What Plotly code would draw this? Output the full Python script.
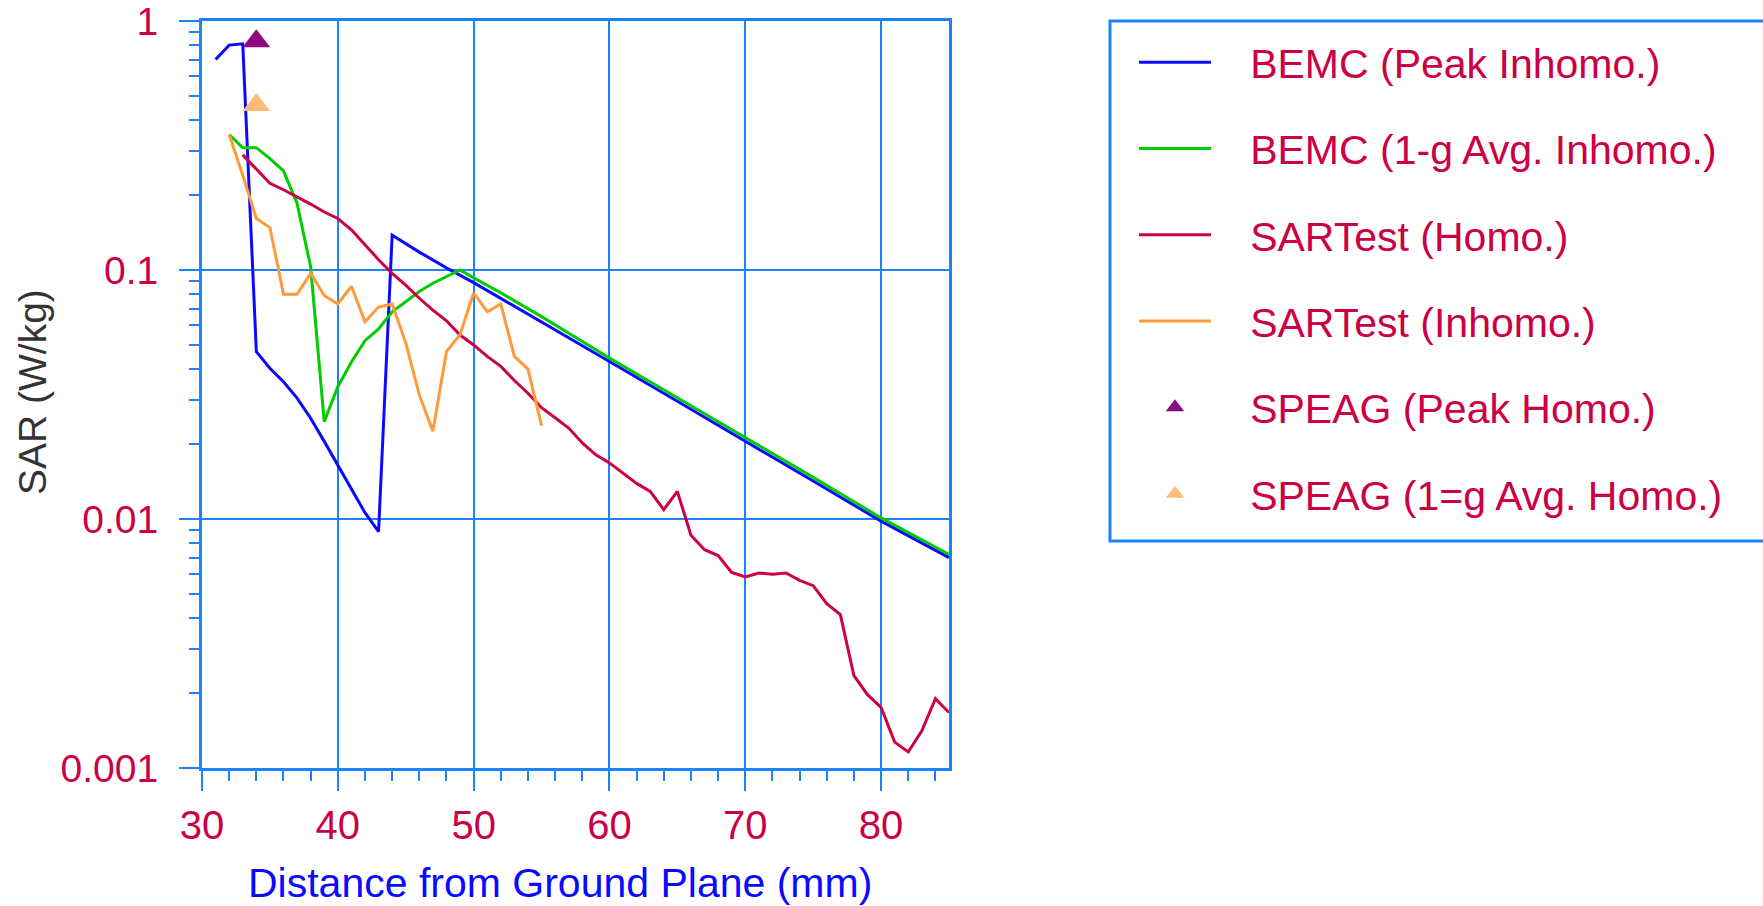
import plotly.graph_objects as go

# ---------------- data ----------------
bemc_peak_x = [31, 32, 33, 34, 35, 36, 37, 38, 39, 40, 41, 42, 43, 44, 46, 48, 50, 52, 55, 60, 65, 70, 75, 80, 85]
bemc_peak_y = [0.70, 0.80, 0.81, 0.047, 0.0403, 0.0356, 0.0306, 0.0254, 0.0205, 0.0164, 0.0131, 0.0106, 0.0089,
               0.138, 0.118, 0.102, 0.089, 0.077, 0.062, 0.0429, 0.0297, 0.0206, 0.0142, 0.0098, 0.0070]

bemc_avg_x = [32, 33, 34, 35, 36, 37, 38, 39, 40, 41, 42, 43, 44, 45, 46, 47, 48, 49, 50, 52, 55, 60, 65, 70, 75, 80, 85]
bemc_avg_y = [0.35, 0.31, 0.31, 0.28, 0.25, 0.185, 0.103, 0.0246, 0.034, 0.0427, 0.052, 0.058, 0.068, 0.075,
              0.082, 0.0885, 0.094, 0.100, 0.093, 0.081, 0.065, 0.0443, 0.0307, 0.0213, 0.0147, 0.0101, 0.0072]

sartest_homo_x = list(range(33, 86))
sartest_homo_y = [0.29, 0.255, 0.223, 0.21, 0.197, 0.184, 0.171, 0.161, 0.145, 0.126, 0.11, 0.097,
                  0.087, 0.077, 0.069, 0.0625, 0.0548, 0.050, 0.045, 0.041, 0.036, 0.032, 0.028, 0.0255,
                  0.0232, 0.0202, 0.0181, 0.0168, 0.0153, 0.0139, 0.0129, 0.0109, 0.0129, 0.0086, 0.00753,
                  0.00713, 0.0061, 0.00585, 0.00607, 0.0060, 0.00607, 0.00567, 0.0054, 0.00457, 0.00413,
                  0.00235, 0.00197, 0.00175, 0.00127, 0.00116, 0.00141, 0.0019, 0.00167]

sartest_inhomo_x = list(range(32, 56))
sartest_inhomo_y = [0.35, 0.24, 0.161, 0.148, 0.080, 0.080, 0.097, 0.079, 0.073, 0.086, 0.062, 0.071,
                    0.073, 0.051, 0.0315, 0.0225, 0.047, 0.055, 0.081, 0.068, 0.073, 0.045, 0.040, 0.0237]

speag_peak_x = [34]
speag_peak_y = [0.83]
speag_avg_x = [34]
speag_avg_y = [0.46]

x_tick_vals = [30, 40, 50, 60, 70, 80]
y_tick_vals = [0.001, 0.01, 0.1, 1]
y_tick_text = ["0.001", "0.01", "0.1", "1"]

# ---------------- style ----------------
W, H = 1763, 906
ML, MR, MT, MB = 202, 814, 21, 138
PW, PH = W - ML - MR, H - MT - MB
AXIS = "#1a84ff"
CRIMSON = "#cc0044"
FONT = "Arial, Liberation Sans, sans-serif"
PAD = "\u00a0\u00a0\u00a0"


def px_x(p):
    return (p - ML) / PW


def px_y(p):
    return (H - MB - p) / PH


fig = go.Figure()
fig.add_trace(go.Scatter(x=bemc_peak_x, y=bemc_peak_y, mode="lines", name=PAD + "BEMC (Peak Inhomo.)",
                         legendgroup="a", line=dict(color="#0a0aff", width=3)))
fig.add_trace(go.Scatter(x=bemc_avg_x, y=bemc_avg_y, mode="lines", name=PAD + "BEMC (1-g Avg. Inhomo.)",
                         legendgroup="b", line=dict(color="#00cc00", width=3)))
fig.add_trace(go.Scatter(x=sartest_homo_x, y=sartest_homo_y, mode="lines", name=PAD + "SARTest (Homo.)",
                         legendgroup="c", line=dict(color=CRIMSON, width=3)))
fig.add_trace(go.Scatter(x=sartest_inhomo_x, y=sartest_inhomo_y, mode="lines", name=PAD + "SARTest (Inhomo.)",
                         legendgroup="d", line=dict(color="#ff9a3a", width=3)))
fig.add_trace(go.Scatter(x=speag_peak_x, y=speag_peak_y, mode="markers", name=PAD + "SPEAG (Peak Homo.)",
                         legendgroup="e", marker=dict(symbol="triangle-up", size=24, color="#8b0a7e")))
fig.add_trace(go.Scatter(x=speag_avg_x, y=speag_avg_y, mode="markers", name=PAD + "SPEAG (1=g Avg. Homo.)",
                         legendgroup="f", marker=dict(symbol="triangle-up", size=24, color="#ffbb78")))

minor_y = [m * 10 ** e for e in (-3, -2, -1) for m in range(2, 10)]

fig.update_xaxes(range=[30, 85], tickmode="array", tickvals=x_tick_vals, automargin=False,
                 ticklabeloverflow="allow",
                 showgrid=True, gridcolor=AXIS, gridwidth=2,
                 showline=True, linecolor=AXIS, linewidth=3, mirror=True,
                 ticks="outside", ticklen=20, tickwidth=2, tickcolor=AXIS,
                 ticklabelstandoff=0,
                 tickfont=dict(family=FONT, size=40, color=CRIMSON),
                 minor=dict(dtick=2, tick0=30, ticks="outside", ticklen=10, tickwidth=2,
                            tickcolor=AXIS, showgrid=False),
                 zeroline=False)
fig.update_yaxes(type="log", range=[-3, 0], tickmode="array", tickvals=y_tick_vals, ticktext=y_tick_text,
                 automargin=False, ticklabeloverflow="allow",
                 showgrid=True, gridcolor=AXIS, gridwidth=2,
                 showline=True, linecolor=AXIS, linewidth=3, mirror=True,
                 ticks="outside", ticklen=20, tickwidth=2, tickcolor=AXIS,
                 ticklabelstandoff=13,
                 tickfont=dict(family=FONT, size=39, color=CRIMSON),
                 minor=dict(tickmode="array", tickvals=minor_y, ticks="outside", ticklen=10, tickwidth=2,
                            tickcolor=AXIS, showgrid=False),
                 zeroline=False)

fig.add_annotation(text="Distance from Ground Plane (mm)", xref="paper", yref="paper",
                   x=px_x(560), y=px_y(883), xanchor="center", yanchor="middle", showarrow=False,
                   font=dict(family=FONT, size=41, color="#0a0aff"))
fig.add_annotation(text="SAR (W/kg)", xref="paper", yref="paper", textangle=-90,
                   x=px_x(33), y=px_y(392), xanchor="center", yanchor="middle", showarrow=False,
                   font=dict(family=FONT, size=39, color="#333333"))

# legend frame
fig.add_shape(type="rect", xref="paper", yref="paper",
              x0=px_x(1110), x1=px_x(1800), y0=px_y(541), y1=px_y(21),
              line=dict(color=AXIS, width=3), fillcolor="rgba(0,0,0,0)", layer="above")

fig.update_layout(
    width=W, height=H,
    margin=dict(l=ML, r=MR, t=MT, b=MB, pad=0, autoexpand=False),
    paper_bgcolor="white", plot_bgcolor="white",
    font=dict(family=FONT, color=CRIMSON),
    showlegend=True,
    legend=dict(x=px_x(1134), y=px_y(29), xanchor="left", yanchor="top",
                bgcolor="rgba(0,0,0,0)", borderwidth=0,
                font=dict(family=FONT, size=41, color=CRIMSON),
                itemwidth=72, tracegroupgap=30, traceorder="grouped"),
)

fig.write_html("out.html", config={"displayModeBar": False},
               post_script="document.body.style.margin='0';document.body.style.overflow='hidden';")
